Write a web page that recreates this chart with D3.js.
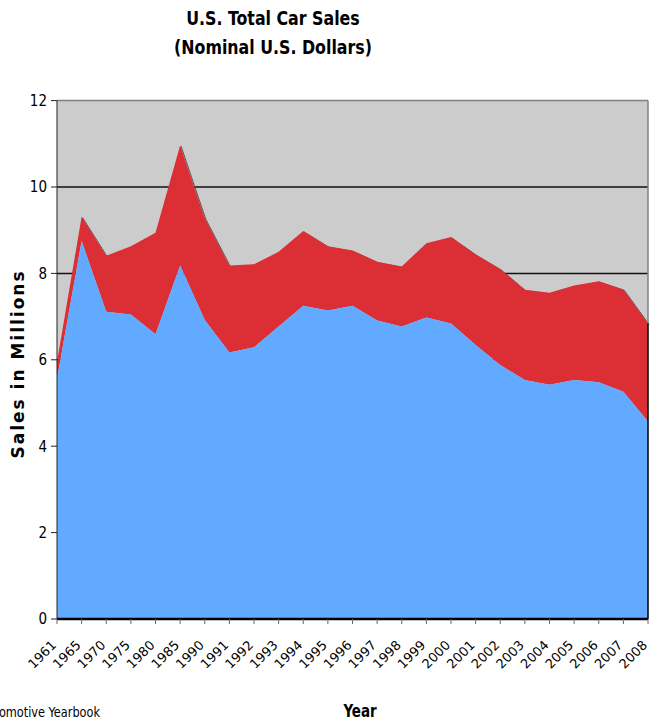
<!DOCTYPE html>
<html lang="en">
<head>
    <meta charset="UTF-8">
    <title>U.S. Total Car Sales</title>
    <script src="https://d3js.org/d3.v7.min.js"></script>
    <style>
        body { margin: 0; background: #fff; }
        .title { font: bold 20px "DejaVu Sans Condensed", "DejaVu Sans", sans-serif; }
        .ytick { font: 15px "DejaVu Sans Condensed", "DejaVu Sans", sans-serif; }
        .xtick { font: 13px "DejaVu Sans", Verdana, sans-serif; }
    </style>
</head>
<body>
<script>
    // years on the category axis
    const years = ['1961', '1965', '1970', '1975', '1980', '1985', '1990', '1991', '1992', '1993',
        '1994', '1995', '1996', '1997', '1998', '1999', '2000', '2001', '2002', '2003',
        '2004', '2005', '2006', '2007', '2008'];
    // sales in millions (blue, bottom layer)
    const domestic = [5.56, 8.75, 7.11, 7.05, 6.59, 8.18, 6.92, 6.17, 6.29, 6.77,
        7.25, 7.14, 7.25, 6.91, 6.77, 6.98, 6.84, 6.34, 5.88, 5.53,
        5.42, 5.53, 5.48, 5.26, 4.57];
    // total sales in millions (red layer top)
    const total = [5.95, 9.31, 8.41, 8.63, 8.94, 10.96, 9.28, 8.18, 8.21, 8.5,
        8.98, 8.63, 8.53, 8.27, 8.16, 8.7, 8.84, 8.44, 8.1, 7.62,
        7.55, 7.72, 7.82, 7.63, 6.84];
    const yTicks = [0, 2, 4, 6, 8, 10, 12];

    const width = 650, height = 721;
    const pLeft = 57, pRight = 648, pTop = 100.6, pBottom = 619;

    const svg = d3.select('body').append('svg')
        .attr('width', width)
        .attr('height', height);

    const x = d3.scalePoint().domain(years).range([pLeft, pRight]);
    const y = d3.scaleLinear().domain([0, 12]).range([pBottom, pTop]);

    // plot background
    svg.append('rect')
        .attr('x', pLeft).attr('y', pTop)
        .attr('width', pRight - pLeft).attr('height', pBottom - pTop)
        .attr('fill', '#cccccc');

    // gridlines
    svg.append('g').selectAll('line')
        .data(yTicks.filter(d => d > 0 && d < 12))
        .enter().append('line')
        .attr('x1', pLeft).attr('x2', pRight)
        .attr('y1', d => y(d)).attr('y2', d => y(d))
        .attr('stroke', '#111').attr('stroke-width', 1.5);

    const rows = years.map((yr, i) => ({ year: yr, dom: domestic[i], tot: total[i] }));

    const redArea = d3.area()
        .x(d => x(d.year))
        .y0(d => y(d.dom))
        .y1(d => y(d.tot));
    const blueArea = d3.area()
        .x(d => x(d.year))
        .y0(y(0))
        .y1(d => y(d.dom));

    // faint shadow on the top edge
    svg.append('path')
        .datum(rows)
        .attr('d', d3.line().x(d => x(d.year) + 1).y(d => y(d.tot) + 1))
        .attr('fill', 'none')
        .attr('stroke', '#555')
        .attr('stroke-width', 1);

    svg.append('path')
        .datum(rows)
        .attr('d', redArea)
        .attr('fill', '#dc2e35');

    svg.append('path')
        .datum(rows)
        .attr('d', blueArea)
        .attr('fill', '#62aaff');

    // plot border
    svg.append('line')
        .attr('x1', pLeft).attr('x2', pRight)
        .attr('y1', pTop).attr('y2', pTop)
        .attr('stroke', '#808080').attr('stroke-width', 1.5);
    svg.append('line')
        .attr('x1', pRight).attr('x2', pRight)
        .attr('y1', pTop).attr('y2', y(total[total.length - 1]))
        .attr('stroke', '#808080').attr('stroke-width', 1.5);
    svg.append('line')
        .attr('x1', pRight).attr('x2', pRight)
        .attr('y1', y(total[total.length - 1])).attr('y2', pBottom)
        .attr('stroke', '#000').attr('stroke-width', 1.5);

    // y axis
    svg.append('line')
        .attr('x1', pLeft).attr('x2', pLeft)
        .attr('y1', pTop).attr('y2', pBottom)
        .attr('stroke', '#222').attr('stroke-width', 1);
    const yg = svg.append('g').selectAll('g')
        .data(yTicks).enter().append('g');
    yg.append('line')
        .attr('x1', pLeft - 6).attr('x2', pLeft)
        .attr('y1', d => y(d)).attr('y2', d => y(d))
        .attr('stroke', '#222');
    yg.append('text')
        .attr('class', 'ytick')
        .attr('x', pLeft - 10)
        .attr('y', d => y(d))
        .attr('dy', '0.36em')
        .attr('text-anchor', 'end')
        .text(d => d);

    // x axis
    svg.append('line')
        .attr('x1', pLeft).attr('x2', pRight)
        .attr('y1', pBottom).attr('y2', pBottom)
        .attr('stroke', '#000').attr('stroke-width', 2.5);
    svg.append('g').selectAll('line')
        .data(years).enter().append('line')
        .attr('x1', d => x(d)).attr('x2', d => x(d))
        .attr('y1', pBottom).attr('y2', pBottom + 5)
        .attr('stroke', '#666');
    svg.append('g').selectAll('text')
        .data(years).enter().append('text')
        .attr('class', 'xtick')
        .attr('text-anchor', 'end')
        .attr('transform', d => `translate(${x(d)},${pBottom + 27}) rotate(-45)`)
        .text(d => d);

    // titles (narrowed to match the condensed face)
    svg.append('text').attr('class', 'title')
        .attr('transform', 'translate(273,25) scale(0.88,1)')
        .attr('text-anchor', 'middle')
        .text('U.S. Total Car Sales');
    svg.append('text').attr('class', 'title')
        .attr('transform', 'translate(273,54) scale(0.88,1)')
        .attr('text-anchor', 'middle')
        .text('(Nominal U.S. Dollars)');

    svg.append('text')
        .attr('transform', 'translate(24,364) rotate(-90)')
        .attr('text-anchor', 'middle')
        .style('font', 'bold 17px "DejaVu Sans", Verdana, sans-serif')
        .style('letter-spacing', '2px')
        .text('Sales in Millions');

    svg.append('text')
        .attr('transform', 'translate(360,717) scale(0.88,1)')
        .attr('text-anchor', 'middle')
        .style('font', 'bold 17px "DejaVu Sans Condensed", "DejaVu Sans", sans-serif')
        .text('Year');

    svg.append('text')
        .attr('transform', 'translate(100,717) scale(0.9,1)')
        .attr('text-anchor', 'end')
        .style('font', '14px "DejaVu Sans Condensed", "DejaVu Sans", sans-serif')
        .text('Automotive Yearbook');
</script>
</body>
</html>
